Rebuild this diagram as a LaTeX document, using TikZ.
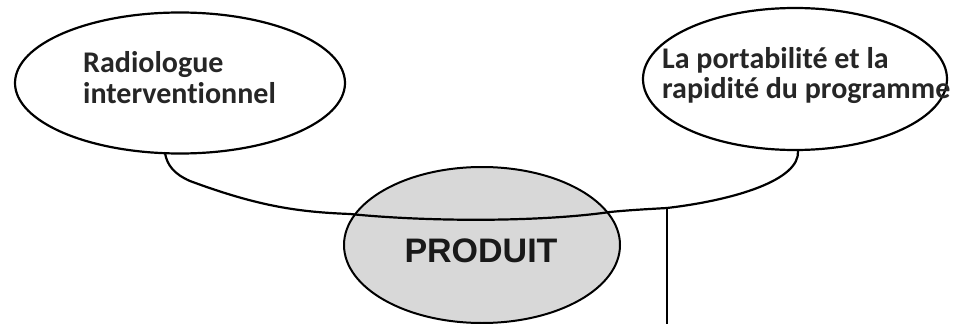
\documentclass[tikz,border=0pt]{standalone}
\usepackage{fontspec}
\newfontfamily\calib{Carlito}[Ligatures=NoCommon]
\newfontfamily\arialf{Liberation Sans}
\usetikzlibrary{shapes.geometric}
\definecolor{prodfill}{RGB}{216,216,216}
\tikzset{
  bubble/.style={ellipse, draw=black, line width=2.2pt, inner sep=0pt},
  prod/.style={ellipse, draw=black, line width=2pt, fill=prodfill, inner sep=0pt},
  lbl/.style={inner sep=0pt, font=\calib\bfseries\fontsize{30}{32}\selectfont, text=black!85},
  conn/.style={draw=black, line width=2.2pt, line cap=round, line join=round}
}
\begin{document}
\begin{tikzpicture}[x=1pt, y=-1pt]
\useasboundingbox (0,0) rectangle (959,324);
% bubbles
\node[bubble, minimum width=330pt, minimum height=141pt] (L) at (180,83) {};
\node[bubble, minimum width=304pt, minimum height=142pt] (R) at (795,79) {};
\node[prod, minimum width=276pt, minimum height=156pt] (P) at (482,245) {};
% texts
\node[lbl, anchor=base west] (Lt1) at (83,72) {Radiologue};
\node[lbl, anchor=base west] (Lt2) at (83,103) {interventionnel};
\node[lbl, anchor=base west] (Rt1) at (662,68) {La portabilité et la};
\node[lbl, anchor=base west] (Rt2) at (662,98) {rapidité du programme};
% connectors
\coordinate (cL) at (165,153);
\coordinate (cR) at (798,151);
\coordinate (j) at (667,208);
\coordinate (b) at (667,324);
\draw[conn] (cL) .. controls (167,165) and (174,174) .. (190,181)
  .. controls (260,207) and (300,212) .. (350,214)
  .. controls (430,222) and (540,222) .. (610,212)
  .. controls (630,210) and (650,209) .. (j)
  .. controls (735,200) and (800,180) .. (cR);
\draw[conn] (j) -- (b);
\node[inner sep=0pt, anchor=base, font=\arialf\bfseries\fontsize{34}{36}\selectfont, text=black!90] (Pt) at (481,262) {PRODUIT};
\end{tikzpicture}
\end{document}
